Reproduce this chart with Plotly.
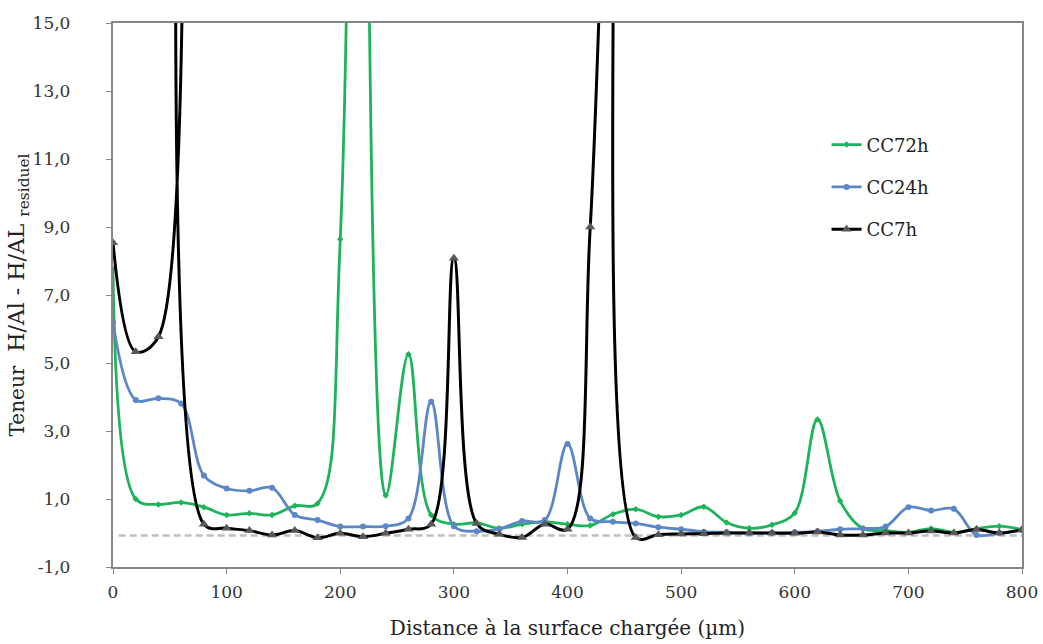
import plotly.graph_objects as go

distance = list(range(0, 801, 20))

cc72h = [7.76, 1.0, 0.84, 0.90, 0.76, 0.53, 0.58, 0.53, 0.80, 0.87,
         8.64, 150.0, 1.1, 5.26, 0.53, 0.26, 0.30, 0.14, 0.26, 0.33,
         0.26, 0.22, 0.55, 0.70, 0.48, 0.53, 0.77, 0.31, 0.14, 0.24,
         0.59, 3.34, 0.94, 0.13, 0.07, 0.02, 0.13, 0.02, 0.13, 0.20, 0.10]

cc24h = [6.2, 3.91, 3.96, 3.81, 1.69, 1.31, 1.24, 1.33, 0.53, 0.38,
         0.19, 0.19, 0.20, 0.43, 3.86, 0.20, 0.05, 0.12, 0.35, 0.38,
         2.62, 0.43, 0.33, 0.28, 0.17, 0.11, 0.04, 0.02, 0.0, 0.0,
         0.02, 0.05, 0.11, 0.13, 0.19, 0.76, 0.66, 0.71, -0.06, 0.0, 0.08]

cc7h = [8.54, 5.33, 5.77, 40.0, 0.26, 0.14, 0.07, -0.06, 0.07, -0.14,
        -0.01, -0.11, -0.01, 0.11, 0.26, 8.08, 0.28, -0.04, -0.13, 0.26,
        0.11, 9.0, 24.0, -0.13, -0.05, -0.03, -0.02, 0.0, 0.0, 0.0,
        -0.01, 0.03, -0.06, -0.06, 0.0, 0.0, 0.06, 0.0, 0.10, 0.0, 0.10]

baseline_x = [5, 800]
baseline_y = [-0.07, -0.07]

x_ticks = [0, 100, 200, 300, 400, 500, 600, 700, 800]
y_ticks = [-1, 1, 3, 5, 7, 9, 11, 13, 15]
y_ticktext = [("%.1f" % v).replace(".", ",") + "\u00a0" * 6 for v in y_ticks]

FONT = "DejaVu Serif"
TXT = "#222222"

fig = go.Figure()

fig.add_trace(go.Scatter(
    x=baseline_x, y=baseline_y, mode="lines",
    line=dict(color="#BFBFBF", width=2.5, dash="7px,4px"),
    showlegend=False, hoverinfo="skip"))

fig.add_trace(go.Scatter(
    x=distance, y=cc72h, mode="lines+markers", name="CC72h",
    legendgroup="a",
    line=dict(color="#1DB35A", width=2.8, shape="spline", smoothing=1),
    marker=dict(symbol="diamond", size=5, color="#1DB35A")))

fig.add_trace(go.Scatter(
    x=distance, y=cc24h, mode="lines+markers", name="CC24h",
    legendgroup="b",
    line=dict(color="#5B87C6", width=2.8, shape="spline", smoothing=1),
    marker=dict(symbol="circle", size=6, color="#5B87C6")))

fig.add_trace(go.Scatter(
    x=distance, y=cc7h, mode="lines+markers", name="CC7h",
    legendgroup="c",
    line=dict(color="#000000", width=3, shape="spline", smoothing=1),
    marker=dict(symbol="triangle-up", size=9, color="#595959")))

fig.update_layout(
    width=1043, height=644,
    margin=dict(l=113, r=21, t=23, b=77, autoexpand=False),
    paper_bgcolor="white", plot_bgcolor="white",
    font=dict(family=FONT, size=17, color=TXT),
    legend=dict(x=0.785, y=0.81, xanchor="left", yanchor="top",
                font=dict(family=FONT, size=18, color=TXT),
                tracegroupgap=16, bgcolor="rgba(0,0,0,0)"),
    xaxis=dict(
        range=[0, 800], tickvals=x_ticks, ticks="outside", ticklen=5,
        tickcolor="#868686", showline=True, linecolor="#868686",
        linewidth=1.5, mirror=True, showgrid=False, zeroline=False,
        automargin=False, ticklabelstandoff=4,
        tickfont=dict(family=FONT, size=17, color="#333333"),
        title=dict(text="Distance à la surface chargée (µm)",
                   font=dict(family=FONT, size=20, color=TXT),
                   standoff=20)),
    yaxis=dict(
        range=[-1, 15], tickvals=y_ticks, ticktext=y_ticktext,
        ticks="outside", ticklen=5, tickcolor="#868686", showline=True,
        linecolor="#868686", linewidth=1.5, mirror=True, showgrid=False,
        zeroline=False, automargin=False,
        tickfont=dict(family=FONT, size=17, color="#333333"),
        title=dict(text="<span style='font-size:20px'>Teneur</span>  H/Al - H/AL <sub>residuel</sub>",
                   font=dict(family=FONT, size=22, color=TXT),
                   standoff=0)),
)

fig.write_html(
    "out.html",
    config={"displayModeBar": False},
    post_script="document.body.style.margin='0';document.body.style.overflow='hidden';")
